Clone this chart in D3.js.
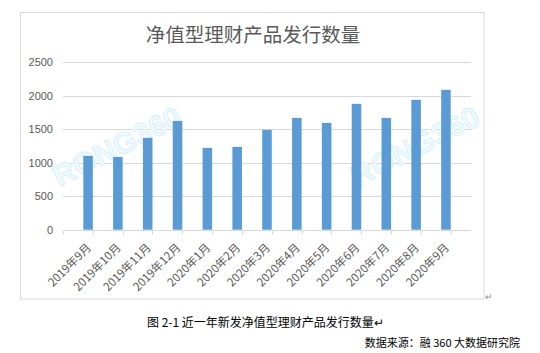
<!DOCTYPE html>
<html>
<head>
<meta charset="utf-8">
<script src="https://cdn.jsdelivr.net/npm/d3@7"></script>
<style>
  body { margin: 0; background: #fff; }
  svg { display: block; font-family: "Microsoft YaHei", "Noto Sans CJK SC", sans-serif; }
</style>
</head>
<body>
<div id="chart"></div>
<script>
// data
const months = ["2019年9月", "2019年10月", "2019年11月", "2019年12月", "2020年1月", "2020年2月",
  "2020年3月", "2020年4月", "2020年5月", "2020年6月", "2020年7月", "2020年8月", "2020年9月"];
const counts = [1100, 1085, 1370, 1622, 1220, 1235, 1488, 1667, 1592, 1876, 1667, 1936, 2085];
const yTicks = [0, 500, 1000, 1500, 2000, 2500];

const W = 540, H = 353;
const plot = { left: 63, right: 471, top: 62, bottom: 229.7 };

const svg = d3.select("#chart").append("svg")
  .attr("width", W).attr("height", H);

// chart frame
svg.append("rect")
  .attr("x", 20.5).attr("y", 12.5)
  .attr("width", 463.5).attr("height", 286.5)
  .attr("fill", "#fff").attr("stroke", "#d9d9d9");

svg.append("text")
  .attr("x", 253).attr("y", 42)
  .attr("text-anchor", "middle")
  .attr("font-size", 19.5)
  .attr("fill", "#595959")
  .text("净值型理财产品发行数量");

const x = d3.scaleBand().domain(months).range([plot.left, plot.right]).padding(0.68);
const y = d3.scaleLinear().domain([0, 2500]).range([plot.bottom, plot.top]);

// gridlines
svg.append("g")
  .selectAll("line")
  .data(yTicks.filter(d => d > 0))
  .join("line")
  .attr("x1", plot.left).attr("x2", plot.right)
  .attr("y1", d => Math.round(y(d)) + 0.5).attr("y2", d => Math.round(y(d)) + 0.5)
  .attr("stroke", "#d9d9d9");

// y labels
svg.append("g")
  .selectAll("text")
  .data(yTicks)
  .join("text")
  .attr("x", 53).attr("y", d => y(d) + 4)
  .attr("text-anchor", "end")
  .attr("font-size", 11)
  .attr("fill", "#595959")
  .attr("font-family", "Liberation Sans, Arial, sans-serif")
  .text(d => d);

// watermark (behind bars)
[[117, 146], [415, 146]].forEach(p => {
  svg.append("text")
    .attr("transform", `translate(${p[0]},${p[1]}) rotate(-27)`)
    .attr("text-anchor", "middle")
    .attr("dy", "0.35em")
    .attr("font-size", 30)
    .attr("font-weight", "bold")
    .attr("font-family", "Liberation Sans, Arial, sans-serif")
    .attr("fill", "#eef9fd")
    .attr("stroke", "#dcf2fa")
    .attr("stroke-width", 1)
    .text("RONG360");
});

// bars
svg.append("g")
  .selectAll("rect")
  .data(counts)
  .join("rect")
  .attr("x", (d, i) => x(months[i]))
  .attr("y", d => y(d))
  .attr("width", x.bandwidth())
  .attr("height", d => y(0) - y(d))
  .attr("fill", "#5b9bd5");

// x axis
const gx = svg.append("g").attr("transform", `translate(0,${Math.round(plot.bottom) + 0.5})`);
gx.append("line").attr("x1", plot.left).attr("x2", plot.right).attr("stroke", "#d9d9d9");
const step = x.step();
gx.selectAll("line.tick")
  .data(d3.range(months.length + 1))
  .join("line")
  .attr("class", "tick")
  .attr("x1", i => Math.round(plot.left + i * step) + 0.5)
  .attr("x2", i => Math.round(plot.left + i * step) + 0.5)
  .attr("y1", 0).attr("y2", 4)
  .attr("stroke", "#d9d9d9");

gx.selectAll("text")
  .data(months)
  .join("text")
  .attr("transform", d => `translate(${x(d) + x.bandwidth() / 2 + 1},${15}) rotate(-45)`)
  .attr("text-anchor", "end")
  .attr("dy", "0.35em")
  .attr("font-size", 11.5)
  .attr("fill", "#595959")
  .text(d => d);

// paragraph marks and captions
svg.append("text")
  .attr("x", 485).attr("y", 300)
  .attr("font-size", 9).attr("fill", "#888")
  .text("↵");

svg.append("text")
  .attr("x", 147).attr("y", 327)
  .attr("font-size", 12)
  .attr("fill", "#000")
  .text("图 2-1  近一年新发净值型理财产品发行数量↵");

svg.append("text")
  .attr("x", 520).attr("y", 347)
  .attr("text-anchor", "end")
  .attr("font-size", 11)
  .attr("fill", "#000")
  .text("数据来源：融 360 大数据研究院");
</script>
</body>
</html>
